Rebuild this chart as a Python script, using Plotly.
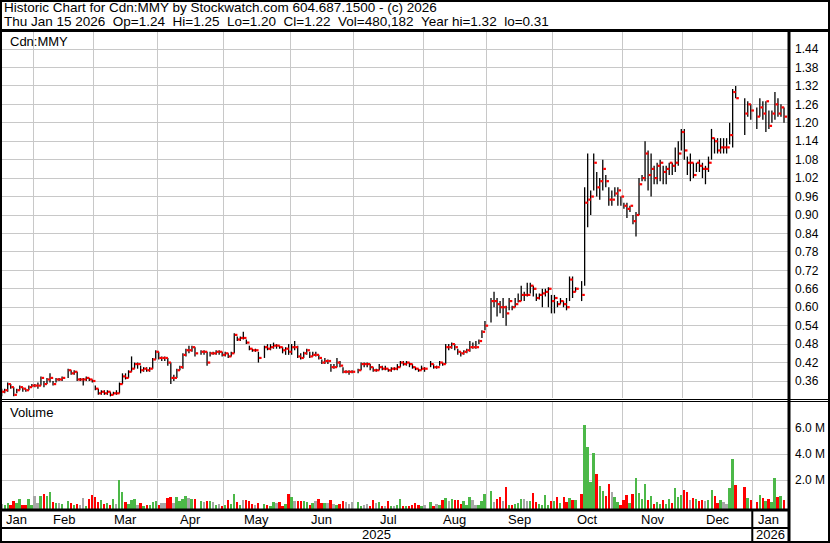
import pandas as pd
import plotly.graph_objects as go

# ------------------------------------------------------------------ data
FIRST_DAY = "2025-01-17"
LAST_DAY = "2026-01-15"
HOLIDAYS = ["2025-02-17", "2025-04-18", "2025-05-19", "2025-07-01", "2025-08-04",
            "2025-09-01", "2025-10-13", "2025-12-25", "2025-12-26", "2026-01-01"]

close = [
    # Jan 2025
    0.325, 0.33, 0.35, 0.34, 0.315, 0.33, 0.34, 0.335, 0.33, 0.34, 0.345,
    # Feb
    0.345, 0.345, 0.37, 0.35, 0.365, 0.37, 0.35, 0.365, 0.365, 0.37,
    0.395, 0.385, 0.39, 0.365, 0.365, 0.365, 0.37, 0.365, 0.36,
    # Mar
    0.335, 0.32, 0.325, 0.32, 0.325, 0.315, 0.32, 0.32, 0.35, 0.375, 0.37, 0.39, 0.40, 0.415,
    0.415, 0.395, 0.40, 0.395, 0.40, 0.43, 0.455,
    # Apr
    0.435, 0.435, 0.435, 0.42, 0.37, 0.37, 0.395, 0.405, 0.445, 0.46, 0.46, 0.47, 0.45,
    0.455, 0.455, 0.42, 0.45, 0.45, 0.455, 0.455, 0.445,
    # May
    0.45, 0.44, 0.45, 0.51, 0.495, 0.50, 0.50, 0.485, 0.465, 0.46, 0.46, 0.435,
    0.47, 0.465, 0.47, 0.475, 0.475, 0.47, 0.46, 0.465, 0.455,
    # Jun
    0.47, 0.47, 0.44, 0.435, 0.45, 0.46, 0.44, 0.445, 0.445, 0.435, 0.42, 0.425, 0.425, 0.405,
    0.405, 0.42, 0.41, 0.39, 0.39, 0.39, 0.39,
    # Jul
    0.395, 0.415, 0.415, 0.415, 0.405, 0.395, 0.395, 0.405, 0.40, 0.40, 0.395, 0.40, 0.40,
    0.405, 0.42, 0.415, 0.42, 0.415, 0.405, 0.40, 0.395, 0.40,
    # Aug
    0.40,
    0.415, 0.405, 0.405, 0.42, 0.415, 0.47, 0.47, 0.48, 0.47, 0.455, 0.45, 0.455, 0.46, 0.47,
    0.47, 0.47, 0.49, 0.52, 0.54,
    # Sep
    0.62, 0.62, 0.61, 0.60, 0.60, 0.58, 0.62, 0.60, 0.61, 0.62, 0.64, 0.64, 0.64, 0.67, 0.66,
    0.63, 0.64, 0.645, 0.65, 0.66, 0.62,
    # Oct
    0.63, 0.61, 0.62, 0.61, 0.60, 0.69, 0.65, 0.66,
    0.64, 0.94, 0.95, 0.96, 1.07, 0.99, 1.01, 1.05, 1.01, 0.95, 0.95, 0.97, 0.98, 0.96,
    # Nov
    0.93, 0.92, 0.93, 0.88, 0.90, 1.00, 1.02, 1.10, 1.03, 1.05, 1.02, 1.06, 1.07, 1.04, 1.05,
    1.07, 1.06, 1.07, 1.10, 1.17,
    # Dec
    1.11, 1.07, 1.07, 1.03, 1.07, 1.06, 1.05, 1.05, 1.07, 1.15, 1.14, 1.11, 1.12, 1.12, 1.12,
    1.16, 1.30, 1.28,
    1.23, 1.26, 1.24,
    # Jan 2026
    1.22, 1.25, 1.23, 1.27, 1.19, 1.23, 1.26, 1.23, 1.25, 1.22,
]

high = [
    # Jan 2025
    0.335, 0.335, 0.355, 0.35, 0.34, 0.335, 0.345, 0.34, 0.335, 0.345, 0.35,
    # Feb
    0.35, 0.355, 0.375, 0.36, 0.37, 0.385, 0.36, 0.37, 0.37, 0.375,
    0.40, 0.395, 0.395, 0.39, 0.37, 0.37, 0.375, 0.37, 0.365,
    # Mar
    0.345, 0.335, 0.33, 0.33, 0.33, 0.325, 0.325, 0.33, 0.355, 0.385, 0.385, 0.395, 0.44, 0.42,
    0.42, 0.41, 0.405, 0.405, 0.405, 0.435, 0.46,
    # Apr
    0.455, 0.44, 0.44, 0.435, 0.42, 0.38, 0.40, 0.41, 0.45, 0.465, 0.475, 0.475, 0.47,
    0.46, 0.46, 0.455, 0.455, 0.455, 0.46, 0.46, 0.455,
    # May
    0.455, 0.45, 0.455, 0.515, 0.505, 0.505, 0.52, 0.495, 0.475, 0.465, 0.465, 0.455,
    0.475, 0.48, 0.48, 0.485, 0.48, 0.475, 0.47, 0.47, 0.48,
    # Jun
    0.48, 0.49, 0.475, 0.45, 0.455, 0.465, 0.455, 0.455, 0.455, 0.445, 0.43, 0.435, 0.43, 0.415,
    0.415, 0.435, 0.425, 0.405, 0.395, 0.395, 0.395,
    # Jul
    0.40, 0.42, 0.42, 0.42, 0.415, 0.405, 0.40, 0.415, 0.41, 0.41, 0.40, 0.405, 0.405,
    0.415, 0.425, 0.425, 0.425, 0.42, 0.415, 0.405, 0.40, 0.41,
    # Aug
    0.405,
    0.425, 0.415, 0.41, 0.425, 0.42, 0.48, 0.48, 0.485, 0.48, 0.465, 0.455, 0.46, 0.465, 0.49,
    0.485, 0.49, 0.495, 0.525, 0.555,
    # Sep
    0.63, 0.65, 0.63, 0.62, 0.63, 0.605, 0.63, 0.605, 0.63, 0.645, 0.67, 0.65, 0.68, 0.68, 0.67,
    0.645, 0.645, 0.66, 0.66, 0.665, 0.64,
    # Oct
    0.64, 0.62, 0.63, 0.62, 0.63, 0.70, 0.70, 0.665,
    0.685, 0.99, 1.10, 0.98, 1.10, 1.04, 1.02, 1.08, 1.03, 0.99, 0.98, 0.99, 0.99, 0.96,
    # Nov
    0.94, 0.94, 0.93, 0.90, 0.91, 1.02, 1.03, 1.14, 1.11, 1.10, 1.06, 1.07, 1.08, 1.06, 1.06,
    1.07, 1.07, 1.12, 1.14, 1.18,
    # Dec
    1.18, 1.09, 1.10, 1.07, 1.07, 1.08, 1.07, 1.06, 1.09, 1.18, 1.15, 1.15, 1.15, 1.15, 1.15,
    1.20, 1.31, 1.32,
    1.28, 1.27, 1.26,
    # Jan 2026
    1.25, 1.28, 1.27, 1.27, 1.24, 1.24, 1.30, 1.28, 1.26, 1.25,
]

low = [
    # Jan 2025
    0.31, 0.32, 0.325, 0.335, 0.31, 0.32, 0.33, 0.325, 0.325, 0.33, 0.34,
    # Feb
    0.34, 0.335, 0.345, 0.34, 0.35, 0.355, 0.345, 0.355, 0.36, 0.36,
    0.37, 0.38, 0.38, 0.36, 0.36, 0.345, 0.36, 0.36, 0.355,
    # Mar
    0.33, 0.315, 0.315, 0.315, 0.315, 0.31, 0.315, 0.315, 0.32, 0.35, 0.365, 0.37, 0.39, 0.40,
    0.40, 0.385, 0.39, 0.39, 0.39, 0.40, 0.43,
    # Apr
    0.43, 0.425, 0.425, 0.41, 0.35, 0.36, 0.37, 0.395, 0.40, 0.44, 0.45, 0.455, 0.44,
    0.445, 0.445, 0.41, 0.44, 0.445, 0.445, 0.445, 0.44,
    # May
    0.44, 0.435, 0.44, 0.45, 0.49, 0.49, 0.495, 0.48, 0.46, 0.455, 0.455, 0.42,
    0.435, 0.46, 0.46, 0.465, 0.465, 0.465, 0.45, 0.445, 0.445,
    # Jun
    0.445, 0.46, 0.435, 0.43, 0.435, 0.445, 0.435, 0.44, 0.44, 0.43, 0.415, 0.415, 0.415, 0.39,
    0.40, 0.405, 0.405, 0.385, 0.385, 0.38, 0.385,
    # Jul
    0.385, 0.395, 0.405, 0.405, 0.395, 0.39, 0.39, 0.395, 0.395, 0.395, 0.39, 0.39, 0.395,
    0.395, 0.405, 0.41, 0.41, 0.405, 0.40, 0.395, 0.39, 0.395,
    # Aug
    0.39,
    0.405, 0.40, 0.40, 0.41, 0.41, 0.415, 0.46, 0.465, 0.46, 0.445, 0.44, 0.445, 0.45, 0.455,
    0.465, 0.465, 0.48, 0.50, 0.525,
    # Sep
    0.55, 0.60, 0.57, 0.58, 0.565, 0.54, 0.59, 0.59, 0.60, 0.615, 0.62, 0.62, 0.635, 0.645, 0.635,
    0.62, 0.625, 0.60, 0.635, 0.60, 0.58,
    # Oct
    0.58, 0.60, 0.61, 0.60, 0.59, 0.62, 0.63, 0.65,
    0.62, 0.67, 0.86, 0.90, 0.98, 0.96, 0.95, 0.98, 0.99, 0.93, 0.93, 0.96, 0.93, 0.93,
    # Nov
    0.92, 0.89, 0.91, 0.87, 0.83, 0.90, 1.01, 1.01, 0.98, 0.96, 1.00, 1.00, 1.01, 1.00, 1.00,
    1.03, 1.03, 1.04, 1.06, 1.11,
    # Dec
    1.08, 1.03, 1.01, 1.02, 1.04, 1.04, 1.02, 1.00, 1.04, 1.08, 1.10, 1.10, 1.10, 1.10, 1.10,
    1.13, 1.12, 1.28,
    1.16, 1.22, 1.21,
    # Jan 2026
    1.18, 1.22, 1.21, 1.17, 1.18, 1.20, 1.21, 1.22, 1.22, 1.20,
]

volume_m = [  # millions of shares
    # Jan 2025
    0.13, 0.05, 0.21, 0.08, 0.38, 0.26, 0.54, 0.08, 0.05, 0.54, 0.08,
    # Feb
    0.77, 0.23, 0.77, 0.92, 0.77, 1.08, 0.31, 0.23, 0.23, 0.15,
    0.38, 0.23, 0.08, 0.15, 0.05, 0.62, 0.03, 0.54, 0.85,
    # Mar
    0.69, 0.31, 0.46, 0.15, 0.23, 0.08, 0.54, 0.15, 2.0, 1.08, 0.31, 0.15, 0.46, 0.54,
    0.05, 0.23, 0.03, 0.05, 0.08, 0.31, 0.38,
    # Apr
    0.05, 0.23, 0.23, 0.62, 0.69, 0.23, 0.69, 0.38, 0.54, 0.77, 0.62, 0.54, 0.54,
    0.38, 0.31, 0.38, 0.38, 0.31, 0.05, 0.15, 0.03,
    # May
    0.05, 0.46, 0.15, 0.92, 0.31, 0.08, 0.46, 0.46, 0.38, 0.15, 0.08, 0.23,
    0.15, 0.08, 0.03, 0.33, 0.26, 0.31, 0.03, 0.18, 0.92,
    # Jun
    0.69, 0.38, 0.38, 0.38, 0.38, 0.31, 0.08, 0.26, 0.38, 0.54, 0.26, 0.26, 0.26, 0.46,
    0.15, 0.08, 0.15, 0.38, 0.31, 0.15, 0.31,
    # Jul
    0.31, 0.03, 0.08, 0.15, 0.03, 0.46, 0.26, 0.31, 0.03, 0.03, 0.38, 0.03, 0.03,
    0.08, 0.54, 0.03, 0.03, 0.03, 0.08, 0.23, 0.08, 0.03,
    # Aug
    0.08,
    0.31, 0.03, 0.15, 0.05, 0.46, 0.62, 0.38, 0.54, 0.46, 0.46, 0.15, 0.38, 0.08, 0.69,
    0.46, 0.05, 0.08, 0.38, 0.92,
    # Sep
    1.15, 0.31, 0.54, 0.69, 0.38, 1.46, 0.08, 0.08, 0.15, 0.23, 0.54, 0.54, 0.38, 0.38, 1.0,
    0.31, 0.15, 0.08, 0.85, 0.08, 0.38,
    # Oct
    0.38, 0.67, 0.23, 0.67, 0.31, 0.62, 0.46, 0.46,
    0.92, 6.23, 4.54, 1.85, 4.08, 2.46, 1.54, 1.15, 0.77, 1.69, 1.08, 0.69, 0.31, 0.08,
    # Nov
    0.46, 0.85, 0.23, 0.92, 2.15, 1.0, 0.54, 1.69, 0.46, 0.77, 0.15, 0.31, 0.15, 0.46, 0.15,
    0.54, 0.23, 1.38, 0.69, 0.85,
    # Dec
    1.23, 1.08, 0.46, 0.62, 0.54, 0.38, 0.46, 0.38, 0.46, 1.23, 0.77, 0.23, 0.46, 0.31, 0.15,
    1.38, 3.62, 1.62,
    1.46, 0.62, 0.46,
    # Jan 2026
    0.31, 0.85, 0.62, 0.38, 0.54, 0.31, 2.15, 0.69, 0.77, 0.48,
]

MONTH_ABBR = ["Jan", "Feb", "Mar", "Apr", "May", "Jun",
              "Jul", "Aug", "Sep", "Oct", "Nov", "Dec"]
PRICE_TICKS = [0.36, 0.42, 0.48, 0.54, 0.60, 0.66, 0.72, 0.78, 0.84, 0.90,
               0.96, 1.02, 1.08, 1.14, 1.20, 1.26, 1.32, 1.38, 1.44]
VOLUME_TICKS = [2.0, 4.0, 6.0]
VOLUME_TICK_TEXT = ["2.0 M", "4.0 M", "6.0 M"]

HEADER_1 = "Historic Chart for Cdn:MMY by Stockwatch.com 604.687.1500 - (c) 2026"
HEADER_2 = ("Thu Jan 15 2026  Op=1.24  Hi=1.25  Lo=1.20  Cl=1.22  "
            "Vol=480,182  Year hi=1.32  lo=0.31")
SYMBOL_LABEL = "Cdn:MMY"
VOLUME_LABEL = "Volume"

# ------------------------------------------------------------ derived
weekdays = pd.bdate_range(FIRST_DAY, LAST_DAY)
trade_days = weekdays[~weekdays.isin(pd.to_datetime(HOLIDAYS))]
n = len(trade_days)
for name, arr in [("close", close), ("high", high), ("low", low), ("volume", volume_m)]:
    if len(arr) != n:
        raise ValueError(f"{name}: {len(arr)} values, expected {n}")
slot = list(weekdays.get_indexer(trade_days))

months = weekdays.to_period("M")
month_bounds = [i - 0.5 for i in range(1, len(weekdays)) if months[i] != months[i - 1]]
month_centers, month_text = [], []
for per in months.unique():
    idx = [i for i in range(len(weekdays)) if months[i] == per]
    month_centers.append((idx[0] + idx[-1]) / 2)
    month_text.append(MONTH_ABBR[per.month - 1])

# ------------------------------------------------------------ layout geometry (px)
W, H = 830, 543
PLOT_RIGHT = 788
PRICE_TOP, PRICE_BOTTOM = 30, 398
VOL_TOP, VOL_BOTTOM = 402, 509
SLOT0_PX, SLOT_PX = 1.67, 3.0206
PRICE_REF_Y, PRICE_PX_PER_UNIT = 381.0, 307.4      # 0.36 sits at y=381
VOL_ZERO_Y, VOL_PX_PER_M = 506.0, 13.0

x_range = [(0 - SLOT0_PX) / SLOT_PX, (PLOT_RIGHT - SLOT0_PX) / SLOT_PX]
price_range = [0.36 - (PRICE_BOTTOM - PRICE_REF_Y) / PRICE_PX_PER_UNIT,
               0.36 + (PRICE_REF_Y - PRICE_TOP) / PRICE_PX_PER_UNIT]
vol_floor = -(VOL_BOTTOM - VOL_ZERO_Y) / VOL_PX_PER_M
vol_range = [vol_floor, (VOL_ZERO_Y - VOL_TOP) / VOL_PX_PER_M]

def px(x):
    return x / W

def py(y):
    return 1 - y / H

FONT = "Liberation Sans, Arial, sans-serif"
GRID = "#c8c8c8"
GREEN, RED, GRAY = "#4cb848", "#ff0000", "#a8a8a8"

# ------------------------------------------------------------ traces
hl_x, hl_y, ck_x, ck_y = [], [], [], []
for s, h, l, c in zip(slot, high, low, close):
    hl_x += [s, s, None]
    hl_y += [l, h, None]
    ck_x += [s + 0.17, s + 1.05, None]
    ck_y += [c, c, None]

vol_colors = []
for i, c in enumerate(close):
    if i == 0 or c == close[i - 1]:
        vol_colors.append(GRAY)
    elif c > close[i - 1]:
        vol_colors.append(GREEN)
    else:
        vol_colors.append(RED)

fig = go.Figure()
fig.add_trace(go.Scatter(x=hl_x, y=hl_y, mode="lines", line=dict(color="black", width=1.3),
                         xaxis="x", yaxis="y", hoverinfo="skip"))
fig.add_trace(go.Scatter(x=ck_x, y=ck_y, mode="lines", line=dict(color=RED, width=2.2),
                         xaxis="x", yaxis="y", hoverinfo="skip"))
fig.add_trace(go.Bar(x=slot, y=[v - vol_floor for v in volume_m], base=vol_floor, width=0.66,
                     marker=dict(color=vol_colors, line=dict(width=0)),
                     xaxis="x2", yaxis="y2", hoverinfo="skip"))

common_x = dict(range=x_range, domain=[0, px(PLOT_RIGHT)], tickvals=month_bounds,
                showticklabels=False, ticks="", showgrid=True, gridcolor=GRID, gridwidth=1,
                zeroline=False, showline=False, fixedrange=True)
common_y = dict(side="right", ticks="", showgrid=True, gridcolor=GRID, gridwidth=1,
                zeroline=False, showline=False, fixedrange=True, ticklabelstandoff=6,
                tickfont=dict(family=FONT, size=12, color="black"))

# ------------------------------------------------------------ frame lines
def hline(y, x0, x1, w):
    return dict(type="line", xref="paper", yref="paper", x0=px(x0), x1=px(x1),
                y0=py(y), y1=py(y), line=dict(color="black", width=w), layer="above")

def vline(x, y0, y1, w):
    return dict(type="line", xref="paper", yref="paper", x0=px(x), x1=px(x),
                y0=py(y0), y1=py(y1), line=dict(color="black", width=w), layer="above")

year_bound = month_bounds[[i for i, t in enumerate(month_text[1:]) if t == "Jan"][0]]
shapes = [
    dict(type="rect", xref="paper", yref="paper", x0=0, y0=0, x1=1, y1=1,
         line=dict(color="black", width=4), layer="above"),
    hline(30.5, 0, W, 3),
    vline(789, 30, H, 3),
    hline(399.5, 0, W, 1),
    hline(401.5, 0, W, 1),
    hline(510, 0, 789, 3),
    hline(528, 0, 789, 2),
    dict(type="line", xref="x", yref="paper", x0=year_bound, x1=year_bound,
         y0=py(510), y1=py(541), line=dict(color="black", width=2), layer="above"),
]

# ------------------------------------------------------------ texts
def label(text, x, y, size=13, xref="paper", xanchor="left"):
    return dict(text=text.replace("  ", "\u00a0\u00a0"), x=x, y=y, xref=xref, yref="paper",
                xanchor=xanchor, yanchor="middle", showarrow=False,
                font=dict(family=FONT, size=size, color="black"))

annotations = [
    label(HEADER_1, px(2), py(7.5), size=13.5),
    label(HEADER_2, px(2), py(21.5), size=13.5),
    label(SYMBOL_LABEL, px(8), py(41.5)),
    label(VOLUME_LABEL, px(8), py(413)),
]
for c, t in zip(month_centers, month_text):
    annotations.append(label(t, c, py(519), xref="x", xanchor="center"))
years = sorted(set(weekdays.year))
year_spans = [(x_range[0], year_bound), (year_bound, x_range[1])]
for yv, (a, b) in zip(years, year_spans):
    annotations.append(label(str(yv), (a + b) / 2, py(534.5), xref="x", xanchor="center"))

fig.update_layout(
    width=W, height=H, margin=dict(l=0, r=0, t=0, b=0, pad=0),
    paper_bgcolor="white", plot_bgcolor="white", showlegend=False, bargap=0,
    xaxis=dict(**common_x, anchor="y"),
    xaxis2=dict(**common_x, anchor="y2", matches="x"),
    yaxis=dict(**common_y, domain=[py(PRICE_BOTTOM), py(PRICE_TOP)], range=price_range,
               tickvals=PRICE_TICKS, tickformat=".2f", anchor="x"),
    yaxis2=dict(**common_y, domain=[py(VOL_BOTTOM), py(VOL_TOP)], range=vol_range,
                tickvals=VOLUME_TICKS, ticktext=VOLUME_TICK_TEXT, anchor="x2"),
    shapes=shapes, annotations=annotations,
)

fig.write_html("out.html", config={"displayModeBar": False},
               post_script="document.body.style.margin='0';document.body.style.overflow='hidden';")
